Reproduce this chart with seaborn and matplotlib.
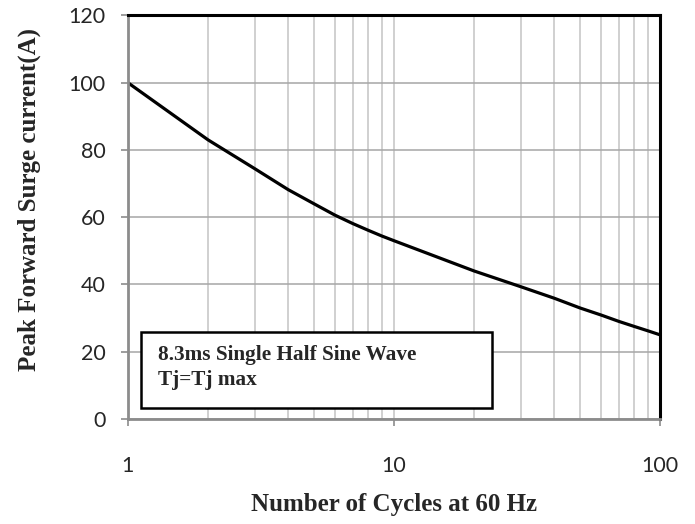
import numpy as np
import pandas as pd
import seaborn as sns
import matplotlib.pyplot as plt
from matplotlib.patches import Rectangle

# surge current vs number of cycles
cycles = [1, 2, 3, 4, 5, 6, 7, 8, 9, 10, 20, 30, 40, 50, 60, 70, 80, 90, 100]
current = [100, 83, 74.4, 68.2, 64, 60.6, 58.1, 56.1, 54.4, 53, 44, 39.3, 35.9, 33, 30.9, 29, 27.5, 26.2, 25]

y_ticks = [0, 20, 40, 60, 80, 100, 120]
x_ticks = [1, 10, 100]
x_tick_labels = ['1', '10', '100']
note_lines = ['8.3ms Single Half Sine Wave', 'Tj=Tj max']

sns.set_style('white')
plt.rcParams['font.family'] = ['Lato', 'DejaVu Sans']

df = pd.DataFrame({'cycles': cycles, 'current': current})

fig = plt.figure(figsize=(6.95, 5.24), dpi=100)
ax = fig.add_axes([0.184, 0.2004, 0.766, 0.7702])

sns.lineplot(data=df, x='cycles', y='current', color='black', linewidth=2.3, ax=ax)

ax.set_xscale('log')
ax.set_xlim(1, 100)
ax.set_ylim(0, 120)
ax.set_yticks(y_ticks)
ax.set_xticks(x_ticks)
ax.set_xticklabels(x_tick_labels)
ax.xaxis.set_minor_formatter(plt.NullFormatter())

# grid
ax.grid(True, which='major', axis='y', color='#a6a6a6', linewidth=1.1)
ax.grid(True, which='both', axis='x', color='#c4c4c4', linewidth=1.1)
ax.set_axisbelow(True)

# spines: axis lines gray, plot border black
for s in ['left', 'bottom']:
    ax.spines[s].set_color('#8c8c8c')
    ax.spines[s].set_linewidth(2.0)
for s in ['top', 'right']:
    ax.spines[s].set_color('black')
    ax.spines[s].set_linewidth(2.2)

ax.tick_params(axis='both', which='major', direction='out', length=5, width=1.2,
               color='#8c8c8c', labelsize=15.5, left=True, bottom=True)
ax.tick_params(axis='y', pad=11)
ax.tick_params(axis='x', pad=22)
ax.tick_params(axis='x', which='minor', length=0)

ax.set_xlabel('Number of Cycles at 60 Hz', fontfamily='Liberation Serif',
              fontweight='bold', fontsize=18, labelpad=12)
ax.set_ylabel('Peak Forward Surge current(A)', fontfamily='Liberation Serif',
              fontweight='bold', fontsize=18)
ax.yaxis.set_label_coords(-0.163, 0.545)

# note box
ax.add_patch(Rectangle((0.024, 0.027), 0.66, 0.189, transform=ax.transAxes,
                       facecolor='white', edgecolor='black', linewidth=1.8, zorder=5))
ax.text(0.056, 0.159, note_lines[0], transform=ax.transAxes, fontfamily='Liberation Serif',
        fontweight='bold', fontsize=15.3, va='center', ha='left', zorder=6)
ax.text(0.056, 0.097, note_lines[1], transform=ax.transAxes, fontfamily='Liberation Serif',
        fontweight='bold', fontsize=15.3, va='center', ha='left', zorder=6)

fig.savefig('out.png', dpi=100)
